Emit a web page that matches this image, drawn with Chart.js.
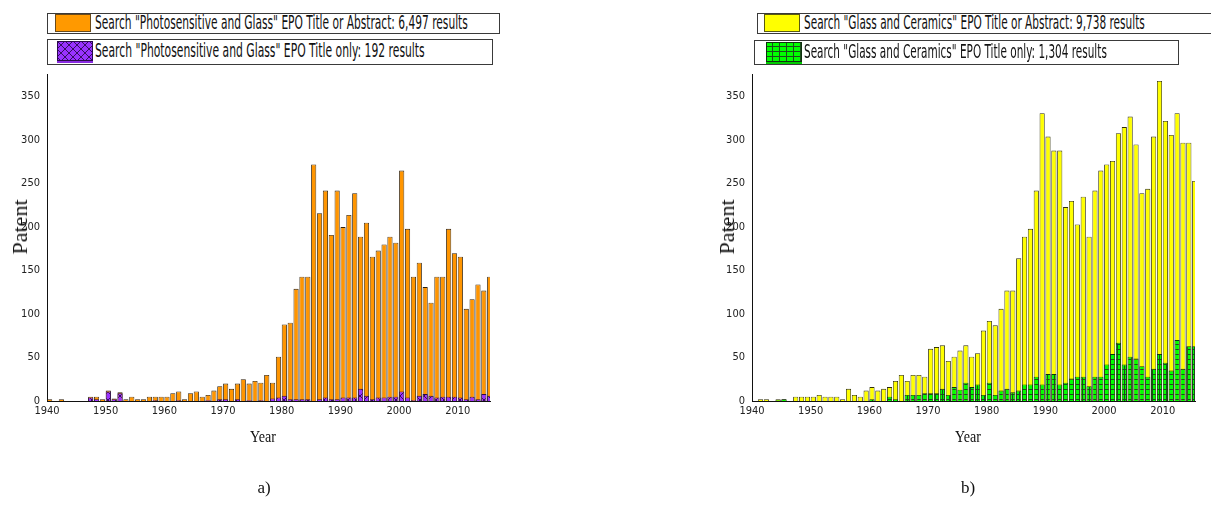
<!DOCTYPE html>
<html>
<head>
<meta charset="utf-8">
<script src="https://cdn.jsdelivr.net/npm/chart.js@4.4.1/dist/chart.umd.min.js"></script>
<style>
  html, body { margin: 0; padding: 0; background: #fff; }
  body { position: relative; width: 1211px; height: 510px; overflow: hidden; }
  .box { position: absolute; border: 1px solid #3a3a3a; box-sizing: border-box; background: #fff; }
  .sw { position: absolute; }
  .lt { position: absolute; white-space: nowrap; color: #111; font-size: 19px; line-height: 19px;
        font-family: "Liberation Sans Narrow", "Arial Narrow", "DejaVu Sans Condensed", "Liberation Sans", sans-serif;
        transform-origin: 0 50%; }
  .cv { position: absolute; }
  .ttl { position: absolute; white-space: nowrap; color: #111;
         font-family: "Liberation Serif", "Times New Roman", serif; }
</style>
</head>
<body>
<canvas id="chartA" class="cv" width="500" height="370" style="left:0;top:60px"></canvas>
<canvas id="chartB" class="cv" width="500" height="370" style="left:705px;top:60px"></canvas>
<div id="overlay"></div>
<script>
// Publication years shown on both charts
const years = [
  1940, 1941, 1942, 1943, 1944, 1945, 1946, 1947, 1948, 1949,
  1950, 1951, 1952, 1953, 1954, 1955, 1956, 1957, 1958, 1959,
  1960, 1961, 1962, 1963, 1964, 1965, 1966, 1967, 1968, 1969,
  1970, 1971, 1972, 1973, 1974, 1975, 1976, 1977, 1978, 1979,
  1980, 1981, 1982, 1983, 1984, 1985, 1986, 1987, 1988, 1989,
  1990, 1991, 1992, 1993, 1994, 1995, 1996, 1997, 1998, 1999,
  2000, 2001, 2002, 2003, 2004, 2005, 2006, 2007, 2008, 2009,
  2010, 2011, 2012, 2013, 2014, 2015
];

// a) "Photosensitive and Glass" - title or abstract
const photoAbstract = [
  2, 0, 2, 0, 0, 0, 0, 5, 5, 2,
  12, 3, 10, 2, 5, 2, 2, 5, 5, 5,
  5, 9, 11, 2, 9, 11, 5, 7, 12, 17,
  20, 14, 20, 25, 20, 23, 21, 30, 21, 51,
  88, 90, 129, 143, 143, 272, 216, 242, 191, 242,
  200, 214, 239, 189, 205, 166, 173, 180, 189, 182,
  265, 198, 143, 159, 131, 113, 143, 143, 198, 170,
  166, 106, 117, 134, 127, 143
];
// a) "Photosensitive and Glass" - title only
const photoTitle = [
  0, 0, 0, 0, 0, 0, 0, 4, 2, 0,
  11, 2, 9, 0, 0, 0, 0, 0, 1, 0,
  0, 0, 1, 0, 0, 0, 0, 1, 0, 2,
  2, 0, 2, 0, 1, 0, 1, 0, 3, 4,
  6, 2, 2, 2, 2, 0, 2, 4, 2, 2,
  4, 4, 4, 14, 6, 2, 4, 4, 5, 5,
  11, 4, 1, 6, 8, 6, 4, 5, 5, 5,
  4, 2, 5, 2, 8, 6
];
// b) "Glass and Ceramics" - title or abstract
const glassAbstract = [
  0, 2, 2, 0, 2, 2, 0, 5, 5, 5,
  5, 7, 5, 5, 5, 2, 14, 7, 5, 12,
  16, 12, 14, 16, 23, 30, 23, 30, 30, 28,
  60, 62, 64, 46, 51, 58, 64, 51, 55, 81,
  92, 87, 106, 127, 127, 164, 189, 198, 242, 331,
  304, 288, 288, 223, 230, 203, 235, 189, 242, 265,
  272, 276, 308, 315, 327, 295, 239, 244, 304, 368,
  322, 306, 331, 297, 297, 253
];
// b) "Glass and Ceramics" - title only
const glassTitle = [
  0, 0, 0, 0, 1, 2, 0, 0, 0, 0,
  0, 0, 0, 0, 0, 0, 0, 0, 0, 0,
  2, 0, 0, 5, 2, 0, 7, 7, 7, 9,
  9, 9, 14, 7, 16, 13, 21, 16, 19, 7,
  21, 7, 12, 14, 10, 12, 19, 19, 28, 19,
  31, 31, 19, 21, 26, 28, 28, 17, 28, 28,
  42, 54, 67, 42, 51, 49, 40, 28, 37, 54,
  44, 35, 70, 37, 63, 63
];

// Axis tick labels
const yearTicks = [1940, 1950, 1960, 1970, 1980, 1990, 2000, 2010];
const countTicks = [0, 50, 100, 150, 200, 250, 300, 350];

// Legend texts
const legendA = [
  'Search "Photosensitive and Glass" EPO Title or Abstract: 6,497 results',
  'Search "Photosensitive and Glass" EPO Title only: 192 results'
];
const legendB = [
  'Search "Glass and Ceramics" EPO Title or Abstract: 9,738 results',
  'Search "Glass and Ceramics" EPO Title only: 1,304 results'
];

// ---- fill patterns ----
function crossHatch() {
  const c = document.createElement('canvas');
  c.width = 8; c.height = 8;
  const g = c.getContext('2d');
  g.fillStyle = '#9933ff';
  g.fillRect(0, 0, 8, 8);
  g.strokeStyle = '#2a0a50';
  g.lineWidth = 0.9;
  g.beginPath();
  g.moveTo(0, 0); g.lineTo(8, 8);
  g.moveTo(8, 0); g.lineTo(0, 8);
  g.stroke();
  return g.createPattern(c, 'repeat');
}
function gridFill() {
  const c = document.createElement('canvas');
  c.width = 7; c.height = 5;
  const g = c.getContext('2d');
  g.fillStyle = '#00ff00';
  g.fillRect(0, 0, 7, 5);
  g.fillStyle = '#1d4d1d';
  g.fillRect(0, 4, 7, 1);
  g.fillRect(6, 0, 1, 5);
  return g.createPattern(c, 'repeat');
}
const purplePattern = crossHatch();
const greenPattern = gridFill();

const tickFont = { family: '"Liberation Sans Narrow", "Arial Narrow", "DejaVu Sans Condensed", "Liberation Sans", sans-serif', size: 11 };
const YEAR_MIN = 1940, YEAR_MAX = 2015.5, BAR_SHIFT = 0.45;

function points(values) {
  return years.map((yr, i) => ({ x: yr, y: values[i] }));
}

function makeChart(canvasId, wide, narrow) {
  const barStyle = { xAxisID: 'xb', borderWidth: 0.85, grouped: false, categoryPercentage: 1, barPercentage: 0.88, clip: 0 };
  return new Chart(document.getElementById(canvasId), {
    type: 'bar',
    data: {
      datasets: [
        Object.assign({ data: points(wide.values), backgroundColor: wide.fill, borderColor: wide.border, order: 2 }, barStyle),
        Object.assign({ data: points(narrow.values), backgroundColor: narrow.fill, borderColor: narrow.border, order: 1 }, barStyle)
      ]
    },
    options: {
      responsive: false,
      animation: false,
      devicePixelRatio: 1,
      layout: { padding: { top: 14, right: 10, left: 0, bottom: 0 } },
      plugins: { legend: { display: false }, tooltip: { enabled: false } },
      scales: {
        // bars sit just right of their year mark
        xb: {
          type: 'linear',
          display: false,
          min: YEAR_MIN - BAR_SHIFT,
          max: YEAR_MAX - BAR_SHIFT,
          offset: false
        },
        x: {
          type: 'linear',
          position: 'bottom',
          min: YEAR_MIN,
          max: YEAR_MAX,
          offset: false,
          grid: { display: false, drawTicks: false },
          border: { display: true, color: '#111', width: 1 },
          ticks: { font: tickFont, color: '#222', padding: 4, maxRotation: 0, autoSkip: false,
                   callback: v => String(v) },
          afterBuildTicks: s => { s.ticks = yearTicks.map(v => ({ value: v })); },
          afterFit: s => { s.height = 29; }
        },
        y: {
          type: 'linear',
          min: 0,
          max: 376,
          grid: { display: false, drawTicks: false },
          border: { display: true, color: '#111', width: 1 },
          ticks: { font: tickFont, color: '#222', padding: 7, callback: v => String(v) },
          afterBuildTicks: s => { s.ticks = countTicks.map(v => ({ value: v })); },
          afterFit: s => { s.width = 47; }
        }
      }
    }
  });
}

makeChart('chartA',
  { values: photoAbstract, fill: '#ff9500', border: '#2e1e08' },
  { values: photoTitle, fill: purplePattern, border: '#2a0a4a' });
makeChart('chartB',
  { values: glassAbstract, fill: '#ffff00', border: '#2e2e08' },
  { values: glassTitle, fill: greenPattern, border: '#0f300f' });

// ---- legends, axis titles and panel captions ----
const overlay = document.getElementById('overlay');
function el(cls, css, text) {
  const d = document.createElement('div');
  d.className = cls;
  d.style.cssText = css;
  if (text !== undefined) d.textContent = text;
  overlay.appendChild(d);
  return d;
}
function swatch(x, y, w, h, fill, border, underline) {
  const c = document.createElement('canvas');
  c.width = w; c.height = h + (underline ? 3 : 0);
  c.className = 'sw';
  c.style.left = x + 'px'; c.style.top = y + 'px';
  const g = c.getContext('2d');
  g.fillStyle = fill;
  g.fillRect(0, 0, w, h);
  g.strokeStyle = border;
  g.lineWidth = 1;
  g.strokeRect(0.5, 0.5, w - 1, h - 1);
  if (underline) { g.fillStyle = underline; g.fillRect(0, h, w, 2); }
  overlay.appendChild(c);
}
function legendText(x, cy, w, text) {
  const d = el('lt', 'left:' + x + 'px;top:' + (cy - 10.5) + 'px', text);
  const natural = d.offsetWidth;
  d.style.transform = 'scaleX(' + (w / natural) + ')';
}

// panel a
el('box', 'left:47px;top:13px;width:453px;height:21px');
swatch(55, 14, 36, 18, '#ff9900', '#6a4a1a');
legendText(95, 23.5, 373, legendA[0]);
el('box', 'left:47px;top:39px;width:446px;height:26px');
swatch(57, 41, 36, 20, purplePattern, '#2a0a4a', '#8a2be2');
legendText(95, 51, 330, legendA[1]);

// panel b
el('box', 'left:757px;top:13px;width:470px;height:21px');
swatch(764, 14, 36, 18, '#ffff00', '#5a5a10');
legendText(804, 23.5, 341, legendB[0]);
el('box', 'left:754px;top:40px;width:425px;height:25px');
swatch(766, 42, 36, 20, greenPattern, '#0f300f', '#00cc00');
legendText(804, 52, 303, legendB[1]);

// axis titles
el('ttl', 'left:263px;top:437px;font-size:16px;transform:translate(-50%,-50%) scaleX(0.88)', 'Year');
el('ttl', 'left:968px;top:437px;font-size:16px;transform:translate(-50%,-50%) scaleX(0.88)', 'Year');
el('ttl', 'left:20px;top:227px;font-size:22px;transform:translate(-50%,-50%) rotate(-90deg)', 'Patent');
el('ttl', 'left:727px;top:227px;font-size:22px;transform:translate(-50%,-50%) rotate(-90deg)', 'Patent');

// panel captions
el('ttl', 'left:264px;top:488px;font-size:17px;transform:translate(-50%,-50%)', 'a)');
el('ttl', 'left:968px;top:488px;font-size:17px;transform:translate(-50%,-50%)', 'b)');
</script>
</body>
</html>
